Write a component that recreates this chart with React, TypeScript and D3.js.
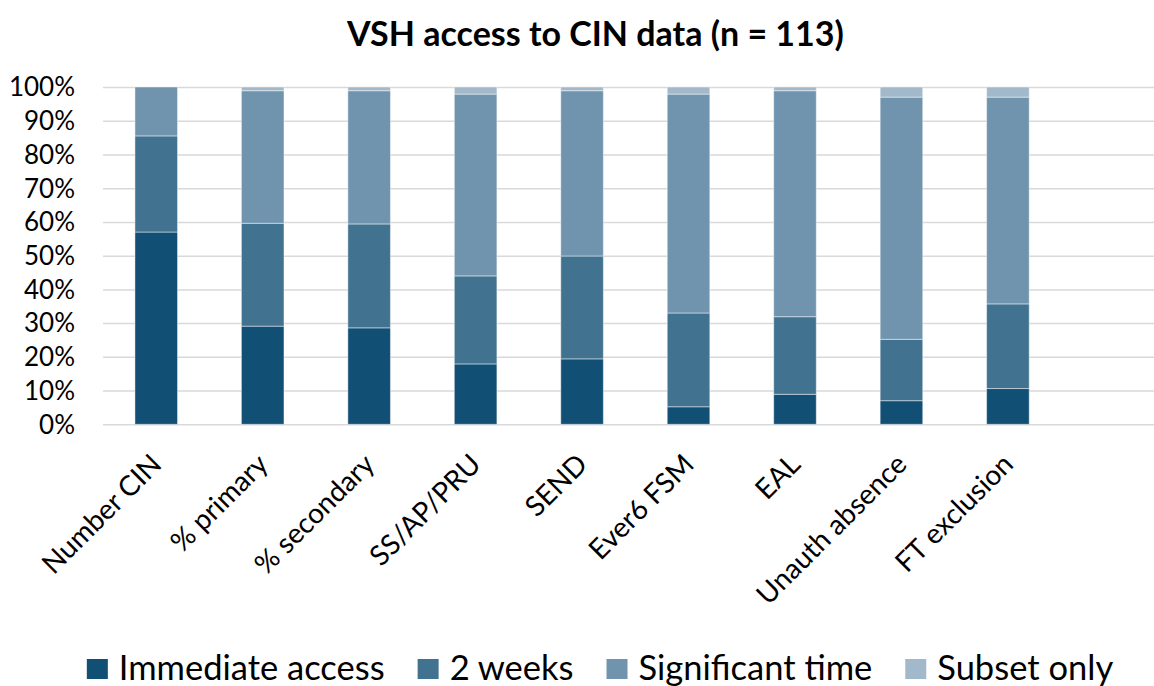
import React, { useEffect, useRef } from 'react';
import * as d3 from 'd3';

const width = 1154;
const height = 686;

const categories = ['Number CIN', '% primary', '% secondary', 'SS/AP/PRU', 'SEND', 'Ever6 FSM', 'EAL', 'Unauth absence', 'FT exclusion'];
const seriesNames = ['Immediate access', '2 weeks', 'Significant time', 'Subset only'];

// shares of the 113 VSHs (%)
const immediateAccess = [57.0, 29.1, 28.6, 17.9, 19.4, 5.2, 8.9, 7.0, 10.6];
const twoWeeks = [28.5, 30.5, 30.8, 26.1, 30.5, 27.8, 23.0, 18.2, 25.1];
const significantTime = [14.5, 39.3, 39.5, 53.9, 49.0, 64.9, 67.0, 71.8, 61.3];
const subsetOnly = [0, 1.1, 1.1, 2.1, 1.1, 2.1, 1.1, 3.0, 3.0];

const colors = ['#124f75', '#417391', '#7094ae', '#a1b9ca'];
const yTicks = [0, 10, 20, 30, 40, 50, 60, 70, 80, 90, 100];

const margin = { top: 87, right: 0, bottom: 262, left: 103 };
const slot = 106.46; // width of one category slot

const font = 'Lato, "Open Sans", sans-serif';

export default function App() {
  const ref = useRef<SVGSVGElement | null>(null);

  useEffect(() => {
    const svg = d3.select(ref.current);
    svg.selectAll('*').remove();

    const rows = categories.map((c, i) => ({
      category: c,
      'Immediate access': immediateAccess[i],
      '2 weeks': twoWeeks[i],
      'Significant time': significantTime[i],
      'Subset only': subsetOnly[i],
    }));
    const stacked = d3.stack<any>().keys(seriesNames)(rows);

    const x = d3.scaleBand()
      .domain(categories)
      .range([margin.left, margin.left + slot * categories.length])
      .paddingInner(0.6)
      .paddingOuter(0.3);
    const y = d3.scaleLinear().domain([0, 100]).range([height - margin.bottom + 0.3, margin.top]);

    // gridlines
    const grid = svg.append('g').attr('transform', `translate(${margin.left},0)`)
      .call(d3.axisLeft(y).tickValues(yTicks).tickSize(-(width - margin.left)).tickFormat(() => ''));
    grid.select('.domain').remove();
    grid.selectAll('.tick line').attr('stroke', '#d9d9d9').attr('stroke-width', 1.5);

    // y labels
    svg.append('g').selectAll('text').data(yTicks).enter().append('text')
      .attr('x', 75)
      .attr('y', d => y(d))
      .attr('dy', '0.36em')
      .attr('text-anchor', 'end')
      .attr('font-family', font)
      .attr('font-size', 26)
      .attr('fill', '#000')
      .text(d => d + '%');

    // bars
    svg.append('g').selectAll('g').data(stacked).enter().append('g')
      .attr('fill', (d, i) => colors[i])
      .selectAll('rect').data(d => d).enter().append('rect')
      .attr('x', (d: any) => x(d.data.category)!)
      .attr('width', x.bandwidth())
      .attr('y', d => y(d[1]))
      .attr('height', d => Math.max(0, y(d[0]) - y(d[1])))
      .attr('stroke', 'rgba(255,255,255,0.45)')
      .attr('stroke-width', 1);

    // category labels
    svg.append('g').selectAll('text').data(categories).enter().append('text')
      .attr('transform', d => `translate(${x(d)! + x.bandwidth() / 2 + 7},466) rotate(-45)`)
      .attr('text-anchor', 'end')
      .attr('font-family', font)
      .attr('font-size', 28)
      .attr('fill', '#000')
      .text(d => d);

    // title
    svg.append('text')
      .attr('x', 595.5)
      .attr('y', 46)
      .attr('text-anchor', 'middle')
      .attr('font-family', font)
      .attr('font-weight', 'bold')
      .attr('font-size', 34)
      .attr('fill', '#000')
      .text('VSH access to CIN data (n = 113)');

    // legend
    const legend = svg.append('g');
    const items = legend.selectAll('g').data(seriesNames).enter().append('g');
    items.append('rect')
      .attr('width', 21).attr('height', 20).attr('y', 659)
      .attr('fill', (d, i) => colors[i]);
    items.append('text')
      .attr('x', 32).attr('y', 680)
      .attr('font-family', font)
      .attr('font-size', 34.5)
      .attr('fill', '#000')
      .text(d => d);
    const widths: number[] = [];
    items.each(function () {
      widths.push(32 + (d3.select(this).select('text').node() as SVGTextElement).getComputedTextLength());
    });
    const gap = 33;
    const total = d3.sum(widths) + gap * (widths.length - 1);
    let cursor = 600 - total / 2;
    items.attr('transform', (d, i) => {
      const t = `translate(${cursor},0)`;
      cursor += widths[i] + gap;
      return t;
    });
  }, []);

  return (
    <svg ref={ref} width={width} height={height}
      style={{ position: 'absolute', left: 0, top: 0, background: '#fff' }} />
  );
}
